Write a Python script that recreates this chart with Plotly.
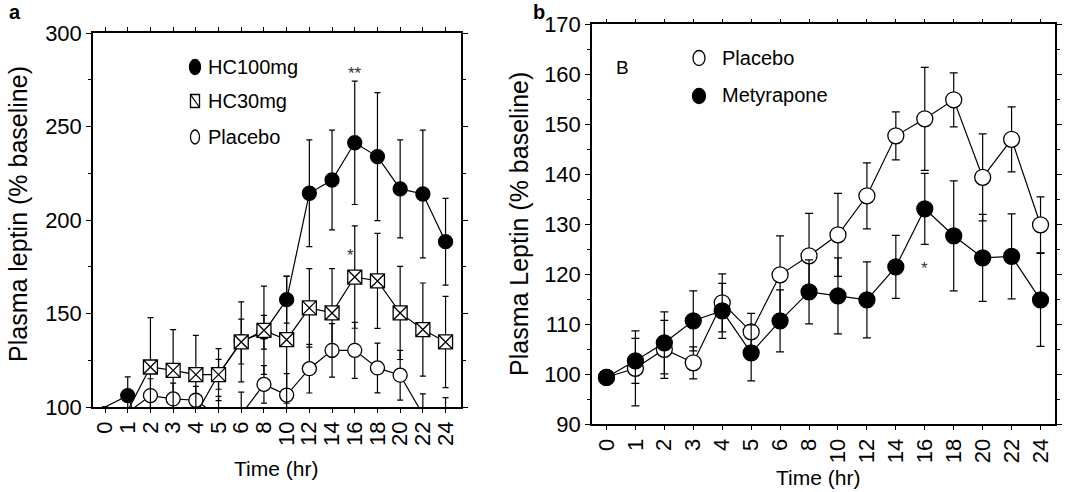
import plotly.graph_objects as go

# ---- data -------------------------------------------------------------
times = ["0", "1", "2", "3", "4", "5", "6", "8", "10", "12", "14", "16", "18", "20", "22", "24"]

# panel a: hydrocortisone study (% of baseline)
hc100 = [100, 106.1, 70, 72, 96, 117.5, 135, 140, 157.4, 214.3, 221.4, 241.3, 233.9, 216.6, 213.9, 188.4]
hc100_err = [None, 10, None, None, None, 8, 12, 9, 12.5, 28.5, 26.7, 33, 34.2, 26.2, 34.2, 23.2]
hc30 = [100, 98, 121.4, 119.6, 117.3, 117.3, 134.8, 141.0, 136.0, 153.0, 150.3, 169.5, 167.4, 150.3, 141.4, 134.8]
hc30_err = [None, None, 26.4, 21.8, 21, 13.9, 21.4, 23.6, 34, 21, 23.7, 27.4, 25.4, 24.9, 24.9, 24.4]
plac_a = [100, 97, 106.1, 104.3, 103.6, 95, 96, 112.1, 106.4, 120.5, 130.3, 130.3, 120.9, 117.0, 96, 92]
plac_a_err = [None, None, 9, 8.5, 7.4, 10.7, 12, 10, 11.5, 13, 14.3, 15, 13.3, 13.3, 11, 13]

# panel b: metyrapone study (% of baseline)
plac_b = [99.4, 101.2, 105.0, 102.3, 114.3, 108.5, 119.9, 123.7, 127.9, 135.7, 147.7, 151.1, 154.9, 139.4, 147.0, 129.9]
plac_b_err = [None, 7.5, 5.8, 3.2, 5.8, 3.7, 7.8, 8.5, 8.3, 6.6, 4.8, 10.3, 5.4, 8.7, 6.5, 5.6]
mety = [99.4, 102.7, 106.3, 110.7, 112.7, 104.3, 110.7, 116.5, 115.7, 114.9, 121.5, 133.1, 127.7, 123.3, 123.6, 114.9]
mety_err = [None, 4.5, 6.2, 6.0, 5.5, 5.6, 6.2, 6.4, 7.6, 7.6, 6.3, 7.1, 11, 8.7, 8.5, 9.3]

YA = (100, 300)
YB = (90, 170)

FONT = "Liberation Sans, Arial, Helvetica, sans-serif"
W, H = 1080, 492


def px_x(p):
    return p / W


def px_y(p):
    return 1 - p / H


def sizes(vals, ymin, s):
    # points at or below the axis floor are not drawn (the axis cuts them off)
    return [0 if v <= ymin else s for v in vals]


def series(vals, errs, xa, ya, ymin, symbol, fill, size, capw):
    return go.Scatter(
        x=times, y=vals, xaxis=xa, yaxis=ya, mode="lines+markers",
        line=dict(color="black", width=1.2),
        marker=dict(symbol=symbol, color=fill, size=sizes(vals, ymin, size),
                    opacity=1, line=dict(color="black", width=1.3)),
        error_y=dict(type="data", array=errs, visible=True, color="black",
                     thickness=1.2, width=capw),
        showlegend=False, cliponaxis=True, hoverinfo="skip",
    )


fig = go.Figure()
# panel a (draw order: HC100, placebo, HC30 on top)
fig.add_trace(series(hc100, hc100_err, "x", "y", YA[0], "circle", "black", 14, 3))
fig.add_trace(series(plac_a, plac_a_err, "x", "y", YA[0], "circle", "white", 14, 3))
fig.add_trace(series(hc30, hc30_err, "x", "y", YA[0], "square-x", "white", 14, 3))
# panel b
fig.add_trace(series(plac_b, plac_b_err, "x2", "y2", YB[0], "circle", "white", 16, 4))
fig.add_trace(series(mety, mety_err, "x2", "y2", YB[0], "circle", "black", 16, 4))

axis_common = dict(
    showline=True, linecolor="black", linewidth=1.5, mirror="ticks",
    ticks="outside", tickcolor="black", tickwidth=1, showgrid=False,
    zeroline=False, automargin=False,
    tickfont=dict(family=FONT, size=22, color="black"),
)
xcat = dict(type="category", tickmode="array", tickvals=times, ticktext=times,
            ticklen=4, tickangle=-90)

fig.update_layout(
    template="none",
    width=W, height=H, margin=dict(l=0, r=0, t=0, b=0, pad=0, autoexpand=False),
    paper_bgcolor="white", plot_bgcolor="white",
    font=dict(family=FONT, color="black"),
    xaxis=dict(axis_common, **xcat, domain=[px_x(93), px_x(461)], anchor="y",
               range=[-0.53, 15.68]),
    yaxis=dict(axis_common, domain=[px_y(407), px_y(33)], anchor="x",
               range=list(YA), tick0=0, dtick=50, ticklen=5,
               minor=dict(dtick=25, ticks="outside", ticklen=3, tickwidth=1,
                          tickcolor="black", showgrid=False)),
    xaxis2=dict(axis_common, **xcat, domain=[px_x(592), px_x(1055)], anchor="y2",
                range=[-0.5, 15.5]),
    yaxis2=dict(axis_common, domain=[px_y(424.3), px_y(24.3)], anchor="x2",
                range=list(YB), tick0=0, dtick=10, ticklen=5,
                minor=dict(dtick=5, ticks="outside", ticklen=3, tickwidth=1,
                           tickcolor="black", showgrid=False)),
)

ann = []


def text(x, y, s, size=20, **kw):
    d = dict(x=px_x(x), y=px_y(y), xref="paper", yref="paper", text=s,
             xanchor="center", yanchor="middle", showarrow=False,
             font=dict(family=FONT, size=size, color="black"))
    d.update(kw)
    ann.append(d)


# panel letters
text(15, 12, "<b>a</b>", size=20)
text(539, 12, "<b>b</b>", size=20)
# axis titles
text(18, 214, "Plasma leptin (% baseline)", size=25, textangle=-90)
text(519, 224, "Plasma Leptin (% baseline)", size=25, textangle=-90)
text(276, 468, "Time (hr)", size=21)
text(818, 477, "Time (hr)", size=21)
# legend texts
text(206, 67, "HC100mg", xanchor="left")
text(206, 101, "HC30mg", xanchor="left")
text(206, 137, "Placebo", xanchor="left")
text(720, 58, "Placebo", xanchor="left")
text(720, 95, "Metyrapone", xanchor="left")
text(622, 67, "B", size=19)

# significance marks
i16 = times.index("16")
star = dict(showarrow=False, yshift=-4, font=dict(family=FONT, size=17, color="#333"))
ann.append(dict(star, x=i16, y=hc100[i16] + hc100_err[i16] + 6, xref="x", yref="y",
                text="**"))
ann.append(dict(star, x=i16 - 0.2, y=hc30[i16] + hc30_err[i16] - 14, xref="x",
                yref="y", text="*"))
ann.append(dict(star, x=i16, y=mety[i16] - mety_err[i16] - 4, xref="x2", yref="y2",
                text="*"))

fig.update_layout(annotations=ann)

# legend symbols
shapes = []


def icon(cx, cy, w, h, kind, fill):
    base = dict(xref="paper", yref="paper", xsizemode="pixel", ysizemode="pixel",
                xanchor=px_x(cx), yanchor=px_y(cy),
                x0=-w / 2, x1=w / 2, y0=-h / 2, y1=h / 2,
                line=dict(color="black", width=1.3), fillcolor=fill)
    if kind == "ellipse":
        shapes.append(dict(base, type="circle"))
    else:
        shapes.append(dict(base, type="rect"))
        diag = dict(base, type="line", x0=-w / 2, x1=w / 2, y0=h / 2, y1=-h / 2)
        diag.pop("fillcolor")
        shapes.append(diag)


icon(195, 67, 11, 15, "ellipse", "black")
icon(195, 101, 9, 13, "box", "white")
icon(195, 137, 9, 14, "ellipse", "white")
icon(699, 58, 12, 15, "ellipse", "white")
icon(699, 96, 13, 15, "ellipse", "black")
fig.update_layout(shapes=shapes)

fig.write_html("out.html")
